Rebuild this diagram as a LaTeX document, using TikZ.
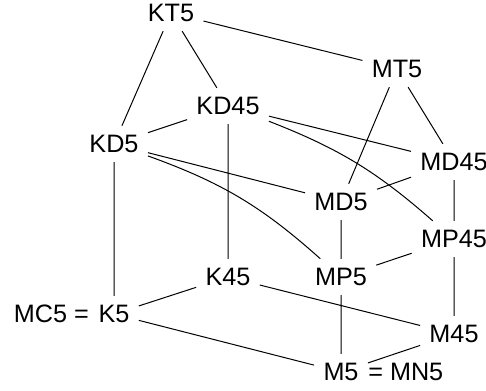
\documentclass[tikz,border=0pt]{standalone}
\usepackage{fontspec}
\setmainfont{Liberation Sans}
\usepackage{tikz}
\usetikzlibrary{positioning}

\begin{document}
\begin{tikzpicture}[
   x=0.5pt, y=-0.5pt,
   every node/.append style={font=\fontsize{12.6}{14}\selectfont, inner sep=4.5pt},
   logic/.style={},
   link/.style={line width=0.5pt}
]
\useasboundingbox (0,0) rectangle (486,390);

\node[logic] (kt5) at (171,13) {KT5};
\node[logic] (mt5) at (397,69) {MT5};
\node[logic] (kd45) at (228,106) {KD45};
\node[logic] (kd5) at (114,144) {KD5};
\node[logic] (md45) at (454,162) {MD45};
\node[logic] (md5) at (341,202) {MD5};
\node[logic] (mp45) at (454,239) {MP45};
\node[logic] (k45) at (228,277) {K45};
\node[logic] (mp5) at (341,277) {MP5};
\node[logic] (k5) at (114,314) {K5};
\node[logic] (m45) at (454,334) {M45};
\node[logic] (m5) at (341,372) {M5};
\node[anchor=base east, inner sep=0pt] (mc5) at (k5.base west) {MC5 =};
\node[anchor=base west, inner sep=0pt] (mn5) at (m5.base east) {= MN5};

\draw[link] (kt5) -- (kd5)  (kt5) -- (kd45)  (kt5) -- (mt5)
  (mt5) -- (md5)  (mt5) -- (md45)
  (kd45) -- (kd5)  (kd45) -- (md45)  (kd45) -- (k45)
  (kd5) -- (md5)  (kd5) -- (k5)
  (md45) -- (md5)  (md45) -- (mp45)
  (md5) -- (mp5)
  (mp45) -- (mp5)  (mp45) -- (m45)
  (k45) -- (k5)  (k45) -- (m45)
  (mp5) -- (m5)  (k5) -- (m5)  (m45) -- (m5);
\draw[link] (kd45) to[bend left=10] (mp45);
\draw[link] (kd5) to[bend left=11] (mp5);
\end{tikzpicture}
\end{document}
